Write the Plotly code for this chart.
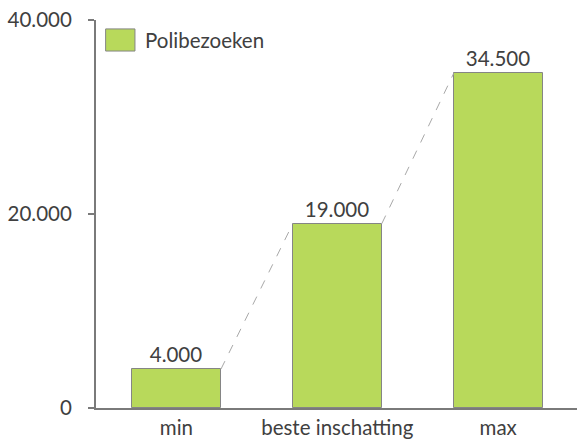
import plotly.graph_objects as go

categories = ["min", "beste inschatting", "max"]
values = [4000, 19000, 34500]
series_name = "Polibezoeken"
y_ticks = [0, 20000, 40000]

BAR_W = 0.553
BAR_COLOR = "#b8d95b"
AXIS_COLOR = "#7a7a7a"
TEXT_COLOR = "#404040"
FONT = "Lato, 'Open Sans', sans-serif"
FS = 20.5

xs = list(range(len(categories)))

fig = go.Figure()
fig.add_trace(go.Bar(
    x=xs, y=values, width=BAR_W, name=series_name,
    marker=dict(color=BAR_COLOR, line=dict(color="#858585", width=1)),
    texttemplate="%{y:,}", textposition="outside",
    textfont=dict(size=FS, color=TEXT_COLOR, family=FONT),
    cliponaxis=False, showlegend=False,
))

# dashed connectors from top-right of each bar to top-left of next
lx, ly = [], []
for i in range(len(values) - 1):
    lx += [xs[i] + BAR_W / 2, xs[i + 1] - BAR_W / 2, None]
    ly += [values[i], values[i + 1], None]
fig.add_trace(go.Scatter(
    x=lx, y=ly, mode="lines",
    line=dict(color="#a8a8a8", width=1, dash="dash"),
    showlegend=False, hoverinfo="skip",
))

# legend drawn as box + text
fig.add_shape(type="rect", xref="paper", yref="paper",
              x0=0.02, x1=0.081, y0=0.920, y1=0.977,
              fillcolor=BAR_COLOR, line=dict(color="#858585", width=1))
fig.add_annotation(xref="paper", yref="paper", x=0.097, y=0.949,
                   text=series_name, showarrow=False, xanchor="left", yanchor="middle",
                   font=dict(size=FS, color=TEXT_COLOR, family=FONT))

fig.update_layout(
    width=577, height=440,
    margin=dict(l=96, r=0, t=20, b=32),
    paper_bgcolor="white", plot_bgcolor="white",
    separators=",.",
    font=dict(family=FONT, color=TEXT_COLOR, size=FS),
    bargap=0,
)
fig.update_xaxes(
    range=[-0.5, 2.49], tickvals=xs, ticktext=categories,
    showline=True, linecolor=AXIS_COLOR, linewidth=2,
    ticks="", showgrid=False, zeroline=False,
    tickfont=dict(size=FS, color=TEXT_COLOR, family=FONT),
)
fig.update_yaxes(
    range=[0, 40000], tickvals=y_ticks, tickformat=",d",
    showline=True, linecolor=AXIS_COLOR, linewidth=2,
    ticks="outside", ticklen=6, tickcolor=AXIS_COLOR, tickwidth=2,
    showgrid=False, zeroline=False, ticklabelstandoff=12,
    tickfont=dict(size=FS, color=TEXT_COLOR, family=FONT),
)

fig.write_html(
    "out.html",
    config={"displayModeBar": False},
    post_script="document.body.style.margin='0';document.body.style.overflow='hidden';",
)
